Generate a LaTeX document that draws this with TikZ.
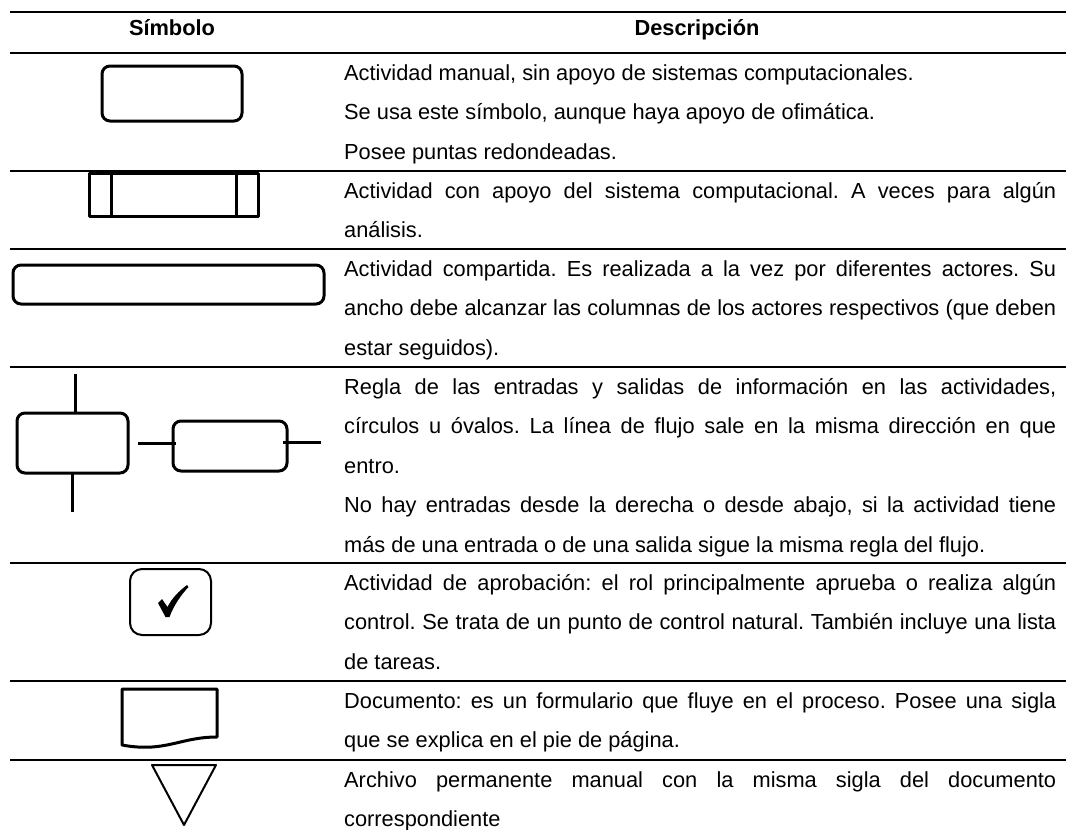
\documentclass[tikz,border=0pt]{standalone}
\usepackage{fontspec}
\setmainfont{Liberation Sans}
\frenchspacing
\newcommand{\jl}[1]{\hbox to 712pt{#1}}
\begin{document}
\begin{tikzpicture}[x=1pt,y=-1pt,
  every node/.style={inner sep=0pt, font=\fontsize{21.8}{26}\selectfont},
  txt/.style={anchor=base west},
  head/.style={anchor=base, font=\fontsize{21.8}{26}\selectfont\bfseries},
  rule/.style={line width=2pt},
  thinrule/.style={line width=1.2pt},
  sym/.style={line width=3pt, line join=round},
  symthin/.style={line width=2pt, line join=round}]
\useasboundingbox (0,0) rectangle (1066,830);
\fill[white] (0,0) rectangle (1066,830);
% rules
\draw[rule] (10,12) -- (1066,12);
\draw[rule] (10,53) -- (1066,53);
\draw[thinrule] (10,171) -- (1066,171);
\draw[rule] (10,249) -- (1066,249);
\draw[rule] (10,367) -- (1066,367);
\draw[rule] (10,563) -- (1066,563);
\draw[rule] (10,681) -- (1066,681);
\draw[rule] (10,760) -- (1066,760);
% header
\node[head] (hs) at (172,35) {Símbolo};
\node[head] (hd) at (697,35) {Descripción};
% row 1
\draw[sym, rounded corners=8pt] (102,66) rectangle (242,121);
\node[txt] (t1a) at (344,80) {Actividad manual, sin apoyo de sistemas computacionales.};
\node[txt] (t1b) at (344,119.5) {Se usa este símbolo, aunque haya apoyo de ofimática.};
\node[txt] (t1c) at (344,159) {Posee puntas redondeadas.};
% row 2
\draw[sym] (89,173) rectangle (258,216);
\draw[sym] (111,173) -- (111,216);
\draw[sym] (236,173) -- (236,216);
\node[txt] (t2a) at (344,198) {\jl{Actividad con apoyo del sistema computacional. A veces para algún}};
\node[txt] (t2b) at (344,237.5) {análisis.};
% row 3
\draw[sym, rounded corners=8pt] (13,265) rectangle (324,304);
\node[txt] (t3a) at (344,276) {\jl{Actividad compartida. Es realizada a la vez por diferentes actores. Su}};
\node[txt] (t3b) at (344,315.5) {\jl{ancho debe alcanzar las columnas de los actores respectivos (que deben}};
\node[txt] (t3c) at (344,355) {estar seguidos).};
% row 4
\draw[sym, rounded corners=8pt] (17,413) rectangle (128,473);
\draw[sym] (75,374) -- (75,413);
\draw[sym] (72,473) -- (72,512);
\draw[sym] (138,443) -- (176,443);
\draw[sym, rounded corners=8pt] (173,421) rectangle (287,471);
\draw[sym] (283,442) -- (321,442);
\node[txt] (t4a) at (344,394) {\jl{Regla de las entradas y salidas de información en las actividades,}};
\node[txt] (t4b) at (344,433.5) {\jl{círculos u óvalos. La línea de flujo sale en la misma dirección en que}};
\node[txt] (t4c) at (344,473) {entro.};
\node[txt] (t4d) at (344,512.5) {\jl{No hay entradas desde la derecha o desde abajo, si la actividad tiene}};
\node[txt] (t4e) at (344,552) {más de una entrada o de una salida sigue la misma regla del flujo.};
% row 5
\draw[symthin, rounded corners=12pt] (130,569) rectangle (211,635);
\fill (158,603) -- (162,599) -- (167.5,607)
  .. controls (172,598) and (179,591) .. (187,585)
  -- (188.5,587) .. controls (181,595) and (174,605) .. (169.5,617)
  -- (165.5,617) -- cycle;
\node[txt] (t5a) at (344,590) {\jl{Actividad de aprobación: el rol principalmente aprueba o realiza algún}};
\node[txt] (t5b) at (344,629.5) {\jl{control. Se trata de un punto de control natural. También incluye una lista}};
\node[txt] (t5c) at (344,669) {de tareas.};
% row 6
\draw[sym] (122,745) -- (122,689) -- (217,689) -- (217,737)
  .. controls (180,737) and (165,753) .. (122,745) -- cycle;
\node[txt] (t6a) at (344,708) {\jl{Documento: es un formulario que fluye en el proceso. Posee una sigla}};
\node[txt] (t6b) at (344,747.5) {que se explica en el pie de página.};
% row 7
\draw[symthin] (152,765) -- (216,765) -- (184,825) -- cycle;
\node[txt] (t7a) at (344,787) {\jl{Archivo permanente manual con la misma sigla del documento}};
\node[txt] (t7b) at (344,826.5) {correspondiente};
\end{tikzpicture}
\end{document}
